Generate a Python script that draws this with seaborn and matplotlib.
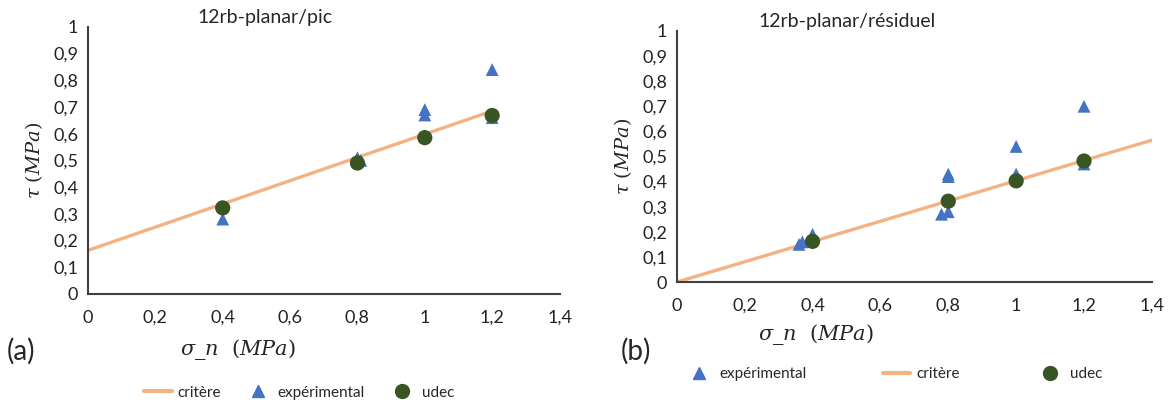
import matplotlib
matplotlib.use('Agg')
import matplotlib.pyplot as plt
import seaborn as sns
from matplotlib.ticker import FuncFormatter, MultipleLocator
from matplotlib.lines import Line2D

# data
# (a) pic
exp_a_x = [0.4, 0.8, 0.81, 1.0, 1.0, 1.2, 1.2]
exp_a_y = [0.28, 0.51, 0.50, 0.69, 0.67, 0.84, 0.66]
udec_a_x = [0.4, 0.8, 1.0, 1.2]
udec_a_y = [0.322, 0.49, 0.585, 0.668]
crit_a_x = [0.0, 1.2]
crit_a_y = [0.163, 0.685]

# (b) residuel
exp_b_x = [0.36, 0.37, 0.4, 0.78, 0.8, 0.8, 0.8, 1.0, 1.0, 1.2, 1.2]
exp_b_y = [0.15, 0.16, 0.19, 0.27, 0.28, 0.42, 0.43, 0.54, 0.43, 0.70, 0.47]
udec_b_x = [0.4, 0.8, 1.0, 1.2]
udec_b_y = [0.162, 0.322, 0.403, 0.482]
crit_b_x = [0.0, 1.4]
crit_b_y = [0.0, 0.565]

blue = '#4472C4'
green = '#375623'
orange = '#F4B183'

sns.set_style('white')
plt.rcParams['font.family'] = ['Lato', 'DejaVu Sans']
plt.rcParams['mathtext.fontset'] = 'dejavuserif'

fig = plt.figure(figsize=(11.73, 4.07), dpi=100)
ax1 = fig.add_axes([0.075, 0.278, 0.402, 0.656])
ax2 = fig.add_axes([0.577, 0.307, 0.405, 0.617])

comma = FuncFormatter(lambda v, p: ('%g' % round(v, 2)).replace('.', ','))

def draw(ax, ex, ey, ux, uy, cx, cy, title, title_x, xlab_x):
    sns.lineplot(x=cx, y=cy, ax=ax, color=orange, linewidth=2.4, legend=False)
    sns.scatterplot(x=ex, y=ey, ax=ax, marker='^', color=blue, s=85,
                    edgecolor='none', legend=False, zorder=3)
    sns.scatterplot(x=ux, y=uy, ax=ax, marker='o', color=green, s=120,
                    edgecolor='none', legend=False, zorder=4)
    ax.set_xlim(0, 1.4)
    ax.set_ylim(0, 1)
    ax.xaxis.set_major_locator(MultipleLocator(0.2))
    ax.yaxis.set_major_locator(MultipleLocator(0.1))
    ax.xaxis.set_major_formatter(comma)
    ax.yaxis.set_major_formatter(comma)
    for s in ['top', 'right']:
        ax.spines[s].set_visible(False)
    for s in ['left', 'bottom']:
        ax.spines[s].set_color('#404040')
        ax.spines[s].set_linewidth(1.5)
    ax.tick_params(axis='both', direction='inout', length=9, width=1.3,
                   color='#404040', labelsize=13, labelcolor='#222222')
    ax.tick_params(axis='y', length=8, pad=3)
    ax.tick_params(axis='x', pad=7)
    ax.set_ylabel(r'$\tau\ (MPa)$', fontsize=14, labelpad=6)
    ax.set_xlabel(r'$\sigma\_n\ \ (MPa)$', fontsize=15, labelpad=8)
    ax.xaxis.set_label_coords(xlab_x, -0.16)
    ax.set_title(title, fontsize=14, x=title_x, pad=3)

draw(ax1, exp_a_x, exp_a_y, udec_a_x, udec_a_y, crit_a_x, crit_a_y,
     '12rb-planar/pic', 0.375, 0.318)
draw(ax2, exp_b_x, exp_b_y, udec_b_x, udec_b_y, crit_b_x, crit_b_y,
     '12rb-planar/résiduel', 0.358, 0.292)

fig.text(0.006, 0.115, '(a)', fontsize=20)
fig.text(0.529, 0.115, '(b)', fontsize=20)

h_crit = Line2D([], [], color=orange, linewidth=3)
h_exp = Line2D([], [], color=blue, marker='^', linestyle='none', markersize=9)
h_udec = Line2D([], [], color=green, marker='o', linestyle='none', markersize=10)

fig.legend([h_crit, h_exp, h_udec], ['critère', 'expérimental', 'udec'],
           loc='center', bbox_to_anchor=(0.255, 0.035), ncol=3, frameon=False,
           fontsize=11, handlelength=1.8, handletextpad=0.4, columnspacing=1.5)
fig.legend([h_exp, h_crit, h_udec], ['expérimental', 'critère', 'udec'],
           loc='center', bbox_to_anchor=(0.762, 0.08), ncol=3, frameon=False,
           fontsize=11, handlelength=1.8, handletextpad=0.4, columnspacing=5.0)

fig.savefig('out.png', dpi=100)
